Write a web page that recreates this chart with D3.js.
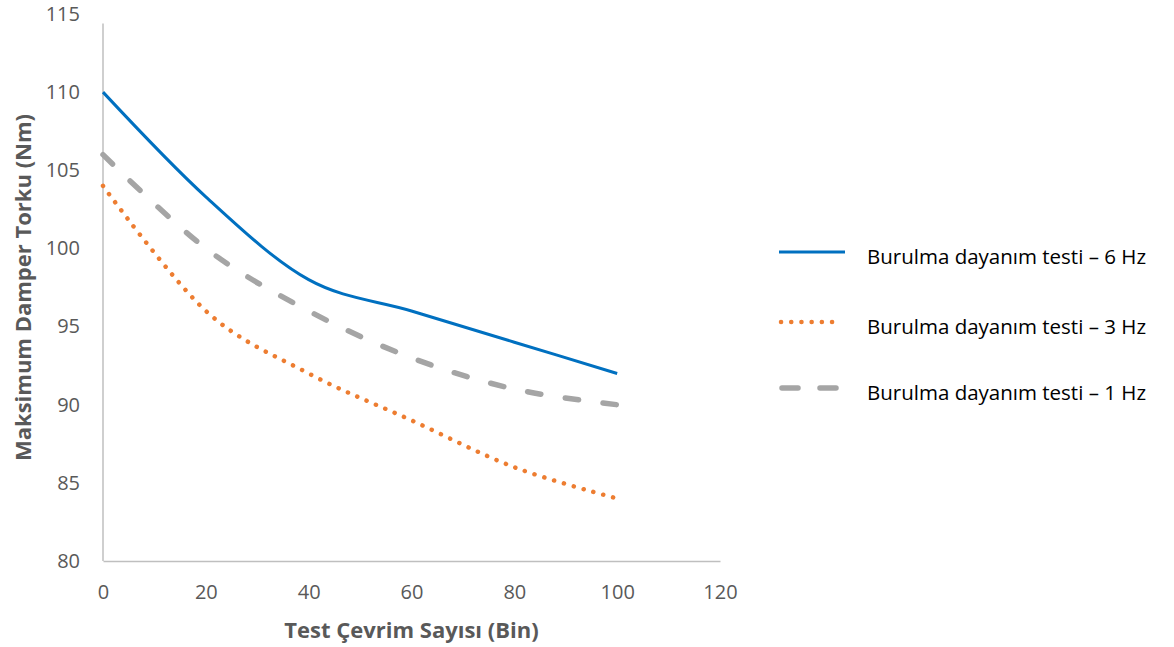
<!DOCTYPE html>
<html>
<head>
<meta charset="utf-8">
<script src="https://cdn.jsdelivr.net/npm/d3@7"></script>
<style>
  html, body { margin: 0; padding: 0; background: #fff; }
  svg { display: block; font-family: "Open Sans", sans-serif; }
</style>
</head>
<body>
<svg id="chart" width="1174" height="647"></svg>
<script>
// Test cycles (thousands) and peak damper torque (Nm) per test frequency
const cycles = [0, 20, 40, 60, 80, 100];
const torque6Hz = [110, 103.3, 98, 96, 94, 92];
const torque3Hz = [104, 96, 92, 89, 86, 84];
const torque1Hz = [106, 100, 96, 93, 91, 90];
const seriesNames = [
  "Burulma dayanım testi – 6 Hz",
  "Burulma dayanım testi – 3 Hz",
  "Burulma dayanım testi – 1 Hz"
];
const xTicks = [0, 20, 40, 60, 80, 100, 120];
const yTicks = [80, 85, 90, 95, 100, 105, 110, 115];
const xTitle = "Test Çevrim Sayısı (Bin)";
const yTitle = "Maksimum Damper Torku (Nm)";

const svg = d3.select("#chart");
const x = d3.scaleLinear().domain([0, 120]).range([103, 720]);
const y = d3.scaleLinear().domain([80, 115]).range([561, 14]);

const axisColor = "#bfbfbf";
const textColor = "#595959";
const font = "'Open Sans', sans-serif";

// Axes
const xAxis = svg.append("g").attr("transform", `translate(0,${y(80)})`)
  .call(d3.axisBottom(x).tickValues(xTicks).tickSize(0).tickPadding(24));
const yAxis = svg.append("g").attr("transform", `translate(${x(0)},0)`)
  .call(d3.axisLeft(y).tickValues(yTicks).tickSize(0).tickPadding(23));
[xAxis, yAxis].forEach(g => {
  g.select(".domain").attr("stroke", axisColor).attr("stroke-width", 1.5);
  g.selectAll("text").attr("fill", textColor).attr("font-size", 20)
    .attr("font-family", font);
});
yAxis.select(".domain").attr("d", `M0,${y(114.4)}V${y(80)}`);

// Axis titles
svg.append("text").attr("x", x(60)).attr("y", 638)
  .attr("text-anchor", "middle").attr("font-weight", "bold")
  .attr("font-family", font)
  .attr("font-size", 22).attr("fill", textColor).text(xTitle);
svg.append("text")
  .attr("transform", `translate(31,${(y(80) + y(115)) / 2}) rotate(-90)`)
  .attr("text-anchor", "middle").attr("font-weight", "bold")
  .attr("font-family", font)
  .attr("font-size", 22).attr("fill", textColor).text(yTitle);

// Series styling
const styles = [
  { color: "#0070C0", width: 3, dash: null, cap: "butt" },
  { color: "#ED7D31", width: 4.5, dash: "0.1 10.1", cap: "round" },
  { color: "#A5A5A5", width: 5.5, dash: "13.5 24.5", cap: "round" }
];
const data = [torque6Hz, torque3Hz, torque1Hz];

const line = d3.line()
  .x((d, i) => x(cycles[i]))
  .y(d => y(d))
  .curve(d3.curveCardinal.tension(0));

// Draw order: 1 Hz and 3 Hz beneath, 6 Hz on top
[2, 1, 0].forEach(k => {
  svg.append("path").datum(data[k])
    .attr("d", line)
    .attr("fill", "none")
    .attr("stroke", styles[k].color)
    .attr("stroke-width", styles[k].width)
    .attr("stroke-linecap", styles[k].cap)
    .attr("stroke-linejoin", "round")
    .attr("stroke-dasharray", styles[k].dash);
});

// Legend
const legendY = [252, 322, 388];
const legend = svg.append("g");
seriesNames.forEach((name, k) => {
  const st = styles[k];
  legend.append("line")
    .attr("x1", k === 2 ? 782 : (k === 1 ? 781 : 779)).attr("x2", k === 0 ? 845 : 839)
    .attr("y1", legendY[k]).attr("y2", legendY[k])
    .attr("stroke", st.color).attr("stroke-width", st.width)
    .attr("stroke-linecap", st.cap)
    .attr("stroke-dasharray", k === 2 ? "16 22" : st.dash);
  legend.append("text")
    .attr("x", 867).attr("y", legendY[k] + 5)
    .attr("dy", "0.35em")
    .attr("font-family", font)
    .attr("font-size", 20.5).attr("fill", "#000")
    .text(name);
});
</script>
</body>
</html>
